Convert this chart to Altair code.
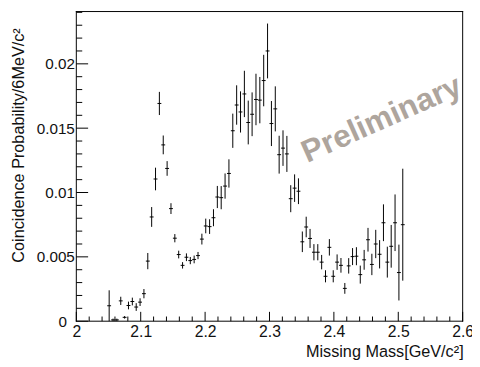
import altair as alt
import pandas as pd
import numpy as np

# bin centres (GeV/c^2), 6 MeV bins
mass = [2.051, 2.057, 2.063, 2.069, 2.075, 2.081, 2.087, 2.093, 2.099, 2.105,
        2.111, 2.117, 2.123, 2.129, 2.135, 2.141, 2.147, 2.153, 2.159, 2.165,
        2.171, 2.177, 2.183, 2.189, 2.195, 2.201, 2.207, 2.213, 2.219, 2.225,
        2.231, 2.237, 2.243, 2.249, 2.255, 2.261, 2.267, 2.273, 2.279, 2.285,
        2.291, 2.297, 2.303, 2.309, 2.315, 2.321, 2.327, 2.333, 2.339, 2.345,
        2.351, 2.357, 2.363, 2.369, 2.375, 2.381, 2.387, 2.393, 2.399, 2.405,
        2.411, 2.417, 2.423, 2.429, 2.435, 2.441, 2.447, 2.453, 2.459, 2.465,
        2.471, 2.477, 2.483, 2.489, 2.495, 2.501, 2.507]

prob = [0.0012, 0.0001, 0.0001, 0.00158, 0.0003, 0.00122, 0.00153, 0.0011, 0.00148, 0.00214,
        0.00467, 0.0081, 0.01105, 0.01692, 0.0137, 0.01187, 0.00875, 0.00645, 0.00518, 0.00434,
        0.00497, 0.00471, 0.0048, 0.0051, 0.00638, 0.0074, 0.00735, 0.00804, 0.00965, 0.0096,
        0.0105, 0.01148, 0.0148, 0.0168, 0.01626, 0.01766, 0.01544, 0.01608, 0.01723, 0.01718,
        0.0187, 0.021, 0.01536, 0.0165, 0.01294, 0.01345, 0.0130, 0.00952, 0.01034, 0.0101,
        0.00617, 0.00732, 0.00643, 0.00536, 0.00536, 0.00459, 0.00349, 0.00574, 0.00349, 0.00459,
        0.00434, 0.00255, 0.0043, 0.00502, 0.00505, 0.00362, 0.00477, 0.00633, 0.00441, 0.006,
        0.0052, 0.00765, 0.00459, 0.00582, 0.00765, 0.00378, 0.0075]

err = [0.0012, 0.0001, 0.0001, 0.00032, 0.0001, 0.0003, 0.0003, 0.0003, 0.0003, 0.00036,
       0.00063, 0.00077, 0.00088, 0.0009, 0.00073, 0.00057, 0.00042, 0.00032, 0.0003, 0.00025,
       0.0003, 0.00028, 0.0003, 0.00028, 0.00042, 0.00057, 0.00057, 0.00066, 0.00086, 0.0009,
       0.00098, 0.0011, 0.00133, 0.00153, 0.0016, 0.0018, 0.0017, 0.0017, 0.002, 0.0018,
       0.002, 0.00213, 0.00175, 0.00175, 0.00147, 0.00138, 0.0014, 0.00105, 0.00107, 0.001,
       0.0008, 0.0008, 0.00074, 0.00063, 0.00063, 0.00056, 0.00047, 0.00064, 0.00047, 0.0006,
       0.00057, 0.00042, 0.0006, 0.00066, 0.0007, 0.0007, 0.00077, 0.00092, 0.00083, 0.0011,
       0.0011, 0.00143, 0.0012, 0.00166, 0.0022, 0.00217, 0.00435]

half_bin = 0.003

x_major = [2.0, 2.1, 2.2, 2.3, 2.4, 2.5, 2.6]
x_minor = [round(2.0 + 0.02 * i, 2) for i in range(31) if i % 5 != 0]
y_major = [0.0, 0.005, 0.01, 0.015, 0.02]
y_minor = [round(0.001 * i, 3) for i in range(25) if i % 5 != 0]

X_DOMAIN = [2.0, 2.6]
Y_DOMAIN = [0.0, 0.024064]

W = 394
H = 316
E = 0.5  # half-pixel inset so 1px lines stay crisp
FONT = "Liberation Sans"

df = pd.DataFrame({"mass": mass, "prob": prob, "err": err})

xs = alt.Scale(domain=X_DOMAIN, range=[E, W - E], nice=False, zero=False)
ys = alt.Scale(domain=Y_DOMAIN, range=[H - E, E], nice=False, zero=False)

x_axis = alt.Axis(
    title="Missing Mass[GeV/c²]",
    values=x_major, format="~g", ticks=False, tickSize=0, domain=False, grid=False,
    labelFont=FONT, labelFontSize=16, labelColor="#111", labelPadding=2,
    labelFlush=False, labelOverlap=False,
    titleFont=FONT, titleFontSize=16.5, titleFontWeight="normal", titleColor="#111",
    titleAnchor="end", titleAlign="right", titleBaseline="alphabetic",
    titleX=W, titleY=35.5,
)
y_axis = alt.Axis(
    title="Coincidence Probability/6MeV/c²",
    values=y_major, format="~g", ticks=False, tickSize=0, domain=False, grid=False,
    labelFont=FONT, labelFontSize=15.5, labelColor="#111",
    labelPadding={"condition": {"test": "datum.value === 0", "value": 9.5}, "value": 1.5},
    labelFlush=False, labelOverlap=False,
    titleFont=FONT, titleFontSize=16.5, titleFontWeight="normal", titleColor="#111",
    titleAngle=270, titleAlign="right", titleBaseline="alphabetic",
    titleX=-53.5, titleY=17,
)

base = alt.Chart(df).transform_calculate(
    lo="datum.prob - datum.err",
    hi="datum.prob + datum.err",
    xlo=f"datum.mass - {half_bin}",
    xhi=f"datum.mass + {half_bin}",
)

vbars = base.mark_rule(color="black", strokeWidth=1).encode(
    x=alt.X("mass:Q", scale=xs, axis=x_axis),
    y=alt.Y("lo:Q", scale=ys, axis=y_axis),
    y2="hi:Q",
)
hbars = base.mark_rule(color="black", strokeWidth=1).encode(
    x=alt.X("xlo:Q", scale=xs, axis=x_axis),
    x2="xhi:Q",
    y=alt.Y("prob:Q", scale=ys, axis=y_axis),
)

def xticks(vals, length):
    return alt.Chart(pd.DataFrame({"t": vals})).mark_rule(color="black", strokeWidth=1).encode(
        x=alt.X("t:Q", scale=xs, axis=x_axis),
        y=alt.value(H - E),
        y2=alt.value(H - E - length),
    )

def yticks(vals, length):
    return alt.Chart(pd.DataFrame({"t": vals})).mark_rule(color="black", strokeWidth=1).encode(
        y=alt.Y("t:Q", scale=ys, axis=y_axis),
        x=alt.value(E),
        x2=alt.value(E + length),
    )

# frame around the plot area (ROOT-style box)
frame_src = pd.DataFrame({"side": ["frame"]})
frame_top = alt.Chart(frame_src).mark_rule(color="black", strokeWidth=1).encode(
    x=alt.value(0), x2=alt.value(W), y=alt.value(E))
frame_bottom = alt.Chart(frame_src).mark_rule(color="black", strokeWidth=1).encode(
    x=alt.value(0), x2=alt.value(W), y=alt.value(H - E))
frame_left = alt.Chart(frame_src).mark_rule(color="black", strokeWidth=1).encode(
    x=alt.value(E), y=alt.value(0), y2=alt.value(H))
frame_right = alt.Chart(frame_src).mark_rule(color="black", strokeWidth=1).encode(
    x=alt.value(W - E), y=alt.value(0), y2=alt.value(H))

watermark = alt.Chart(pd.DataFrame({"label": ["Preliminary"]})).mark_text(
    font=FONT, fontSize=32, fontWeight="bold", color="#aea59d",
    angle=336, align="center", baseline="middle",
).encode(
    text="label:N",
    x=alt.value(311),
    y=alt.value(110),
)

chart = alt.layer(
    vbars, hbars,
    xticks(x_major, 9.5), xticks(x_minor, 4.75),
    yticks(y_major, 12), yticks(y_minor, 6),
    frame_top, frame_bottom, frame_left, frame_right,
    watermark,
).properties(
    width=W, height=H,
    autosize=alt.AutoSizeParams(type="none"),
    padding={"left": 69, "top": 0, "right": 9, "bottom": 43},
).configure_view(
    strokeOpacity=0,
)

chart.save("out.html", embed_options={"renderer": "svg", "actions": False})
